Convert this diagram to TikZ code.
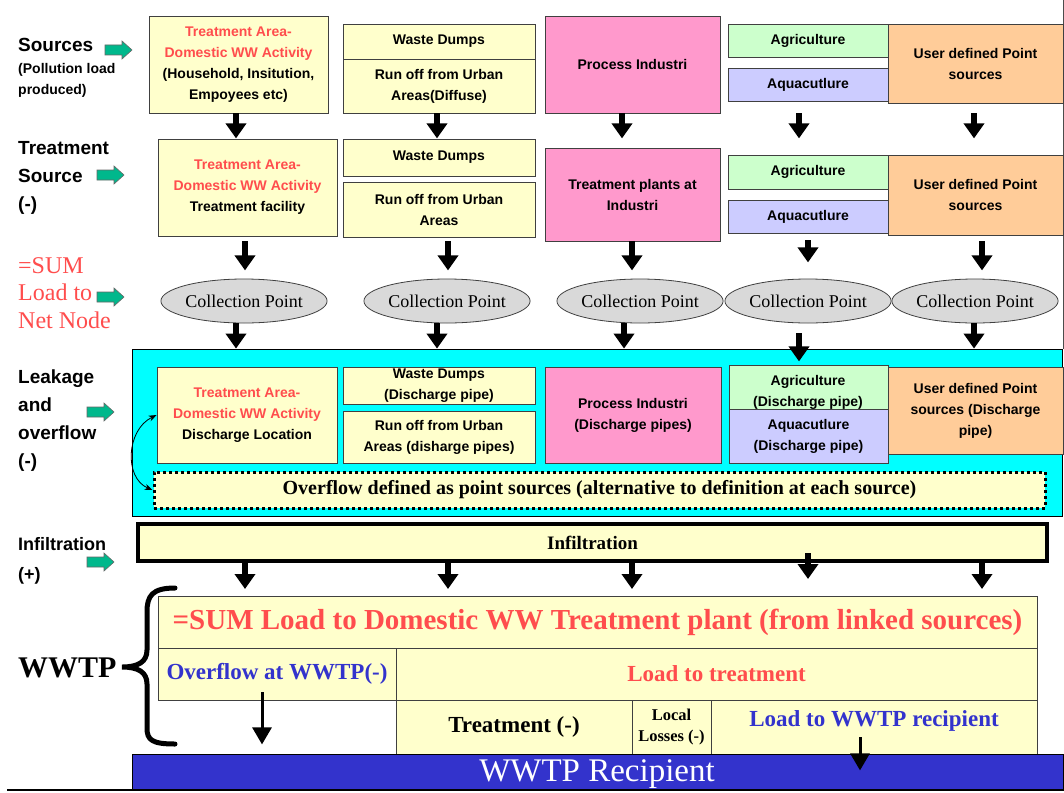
\documentclass[tikz,border=0pt]{standalone}
\usepackage{fontspec}
\setmainfont{Liberation Serif}
\newfontfamily\sansf{Liberation Sans}
\usetikzlibrary{arrows.meta,shapes.geometric}
\definecolor{yel}{RGB}{255,255,204}
\definecolor{pnk}{RGB}{255,153,204}
\definecolor{grn}{RGB}{204,255,204}
\definecolor{lav}{RGB}{204,204,255}
\definecolor{org}{RGB}{255,204,153}
\definecolor{cyn}{RGB}{0,255,255}
\definecolor{gry}{RGB}{217,217,217}
\definecolor{redt}{RGB}{255,77,77}
\definecolor{blut}{RGB}{51,51,204}
\definecolor{tealc}{RGB}{0,184,140}
\definecolor{bord}{RGB}{64,64,64}
\newcommand\mkbox[7]{%
 \pgfmathsetmacro\mkw{#5-#3}%
 \pgfmathsetmacro\mkh{#6-#4}%
 \pgfmathsetmacro\mkx{(#3+#5)/2}%
 \pgfmathsetmacro\mky{(#4+#6)/2}%
 \node[#1, minimum width=\mkw pt, minimum height=\mkh pt] (#2) at (\mkx,\mky) {#7};}
\tikzset{
 sbox/.style={draw=bord, line width=0.8pt, inner sep=0pt, align=center, font=\sansf\bfseries\fontsize{14}{21}\selectfont},
 yb/.style={sbox, fill=yel}, pb/.style={sbox, fill=pnk}, gb/.style={sbox, fill=grn},
 lb/.style={sbox, fill=lav}, ob/.style={sbox, fill=org},
 stxt/.style={inner sep=0pt, align=center, font=\sansf\bfseries\fontsize{14}{21}\selectfont},
 cp/.style={ellipse, draw=bord, line width=0.8pt, fill=gry, minimum width=122pt, minimum height=44pt, inner sep=0pt, font=\fontsize{18}{20}\selectfont},
 blk/.style={line width=6pt, -{Triangle[width=20pt,length=15pt]}},
 tarr/.style={line width=3pt, -{Triangle[width=19pt,length=17pt]}},
 lbl/.style={anchor=west, align=left, inner sep=0pt, font=\sansf\bfseries\fontsize{19}{28}\selectfont},
 cell/.style={draw=bord, line width=0.8pt, fill=yel, inner sep=0pt, align=center, font=\bfseries\fontsize{23}{25}\selectfont},
 garrow/.pic={\draw[fill=tealc, draw=black!60, line width=0.6pt] (0,-5) -- (17,-5) -- (17,-9) -- (27,0) -- (17,9) -- (17,5) -- (0,5) -- cycle;}
}
\begin{document}
\begin{tikzpicture}[x=1pt,y=-1pt]
\useasboundingbox (0,0) rectangle (1064,792);
\fill[white] (0,0) rectangle (1064,792);
\draw[line width=1pt, black!70] (1063,0) -- (1063,349);

% left labels
\node[lbl] (Lsrc) at (18,45) {Sources};
\node[lbl, font=\sansf\bfseries\fontsize{14}{21}\selectfont] (Lsrc2) at (18,80) {(Pollution load\\produced)};
\node[lbl] (Ltr) at (18,178) {Treatment\\Source\\(-)};
\node[lbl, font=\fontsize{24}{27.5}\selectfont, text=redt] (Lsum) at (18,293) {=SUM\\Load to\\Net Node};
\node[lbl] (Llk) at (18,421) {Leakage\\and\\overflow\\(-)};
\node[lbl, font=\sansf\bfseries\fontsize{18}{30}\selectfont] (Linf) at (18,561) {Infiltration\\(+)};
\node[lbl, font=\bfseries\fontsize{30}{32}\selectfont] (Lww) at (18,668) {WWTP};
\pic at (105,50) {garrow};
\pic at (97,175) {garrow};
\pic at (97,297) {garrow};
\pic at (87,412) {garrow};
\pic at (87,562) {garrow};

% row 1 sources
\mkbox{yb}{A1}{149}{16}{328}{113}{\textcolor{redt}{Treatment Area-}\\\textcolor{redt}{Domestic WW Activity}\\(Household, Insitution,\\Empoyees etc)}
\mkbox{yb}{B1a}{343}{24}{535}{59}{Waste Dumps}
\mkbox{yb}{B1b}{343}{59}{535}{113}{Run off from Urban\\Areas(Diffuse)}
\mkbox{pb}{C1}{545}{16}{720}{113}{Process Industri}
\mkbox{gb}{D1a}{728}{24}{888}{57}{Agriculture}
\mkbox{lb}{D1b}{728}{68}{888}{101}{Aquacutlure}
\mkbox{ob}{E1}{888}{24}{1063}{103}{User defined Point\\sources}

% row 2 treatment
\mkbox{yb}{A2}{158}{139}{337}{236}{\textcolor{redt}{Treatment Area-}\\\textcolor{redt}{Domestic WW Activity}\\Treatment facility}
\mkbox{yb}{B2a}{343}{139}{535}{176}{Waste Dumps}
\mkbox{yb}{B2b}{343}{182}{535}{237}{Run off from Urban\\Areas}
\mkbox{pb}{C2}{545}{148}{720}{241}{Treatment plants at\\Industri}
\mkbox{gb}{D2a}{728}{155}{888}{189}{Agriculture}
\mkbox{lb}{D2b}{728}{200}{888}{233}{Aquacutlure}
\mkbox{ob}{E2}{888}{155}{1063}{235}{User defined Point\\sources}

% arrows row1 -> row2
\draw[blk] (236,0 |- A1.south) -- ++(0,25);
\draw[blk] (437,0 |- B1b.south) -- ++(0,25);
\draw[blk] (622,0 |- C1.south) -- ++(0,25);
\draw[blk] (799,0 |- C1.south) -- ++(0,25);
\draw[blk] (974,0 |- C1.south) -- ++(0,25);

% collection points
\node[cp] (CP1) at (244,301) {Collection Point};
\node[cp] (CP2) at (447,301) {Collection Point};
\node[cp] (CP3) at (640,301) {Collection Point};
\node[cp] (CP4) at (808,301) {Collection Point};
\node[cp] (CP5) at (975,301) {Collection Point};
\draw[blk] (245,0 |- C2.south) -- ++(0,29);
\draw[blk] (448,0 |- C2.south) -- ++(0,29);
\draw[blk] (632,0 |- C2.south) -- ++(0,29);
\draw[blk] (808,0 |- C2.south) ++(0,-1) -- ++(0,22);
\draw[blk] (982,0 |- C2.south) -- ++(0,29);

% leakage and overflow
\mkbox{draw=black, line width=0.8pt, fill=cyn, inner sep=0pt}{LK}{132}{349}{1062}{516}{}
\draw[blk] (236,0 |- CP1.south) -- (236,0 |- LK.north);
\draw[blk] (437,0 |- CP2.south) -- (437,0 |- LK.north);
\draw[blk] (624,0 |- CP3.south) -- (624,0 |- LK.north);
\draw[blk] (799,0 |- CP4.south) ++(0,10) -- ++(0,28);
\draw[blk] (974,0 |- CP5.south) -- (974,0 |- LK.north);

\mkbox{yb}{A3}{157}{367}{337}{463}{\textcolor{redt}{Treatment Area-}\\\textcolor{redt}{Domestic WW Activity}\\Discharge Location}
\mkbox{yb}{B3a}{343}{367}{535}{404}{Waste Dumps\\(Discharge pipe)}
\mkbox{yb}{B3b}{343}{411}{535}{463}{Run off from Urban\\Areas (disharge pipes)}
\mkbox{pb}{C3}{545}{367}{721}{463}{Process Industri\\(Discharge pipes)}
\mkbox{gb}{D3a}{729}{365}{888}{409}{}
\node[stxt] (D3at) at (808,392) {Agriculture\\(Discharge pipe)};
\mkbox{lb}{D3b}{729}{409}{888}{463}{Aquacutlure\\(Discharge pipe)}
\mkbox{ob}{E3}{888}{367}{1063}{454}{User defined Point\\sources (Discharge\\pipe)}
\mkbox{draw=black, line width=3pt, dash pattern=on 3pt off 3pt, fill=yel, inner sep=0pt, font=\bfseries\fontsize{20}{22}\selectfont}{OV}{154}{472}{1045}{508}{Overflow defined as point sources (alternative to definition at each source)}
\draw[line width=0.8pt, {Stealth[length=8pt,width=6pt]}-{Stealth[length=8pt,width=6pt]}] (A3.west) .. controls (126,430) and (124,478) .. (OV.west);

% infiltration
\mkbox{draw=black, line width=4pt, fill=yel, inner sep=0pt, font=\bfseries\fontsize{19}{21}\selectfont}{INF}{138}{524}{1047}{561}{Infiltration}

% WWTP table
\mkbox{cell}{T1}{158}{596}{1037}{648}{\fontsize{29}{31}\selectfont\textcolor{redt}{=SUM Load to Domestic WW Treatment plant (from linked sources)}}
\mkbox{cell, text=blut}{T2a}{158}{648}{396}{700}{Overflow at WWTP(-)}
\mkbox{cell, text=redt}{T2b}{396}{648}{1037}{700}{Load to treatment}
\mkbox{cell}{T3a}{396}{700}{632}{754}{Treatment (-)}
\mkbox{cell, font=\bfseries\fontsize{16.5}{21}\selectfont}{T3b}{632}{700}{711}{754}{Local\\Losses (-)}
\mkbox{cell}{T3c}{711}{700}{1037}{754}{}
\node[inner sep=0pt, font=\bfseries\fontsize{23}{25}\selectfont, text=blut] (T3ct) at (874,721) {Load to WWTP recipient};
\mkbox{draw=black, line width=0.8pt, fill=blut, inner sep=0pt}{REC}{132}{754}{1063}{789}{}
\node[inner sep=0pt, text=white, font=\fontsize{33}{35}\selectfont] (RECt) at (597,774) {WWTP Recipient};
\draw[line width=2pt] (7,790) -- (1064,790);

\draw[blk] (245,0 |- INF.south) -- ++(0,26);
\draw[blk] (448,0 |- INF.south) -- ++(0,26);
\draw[blk] (632,0 |- INF.south) -- ++(0,26);
\draw[blk] (808,0 |- INF.south) ++(0,-10) -- ++(0,26);
\draw[blk] (982,0 |- INF.south) -- ++(0,26);

\draw[tarr] (262,0 |- T2a.south) ++(0,-8) -- ++(0,52);
\draw[tarr] (860,0 |- T3c.south) ++(0,-17) -- ++(0,33);

% brace
\draw[line width=5pt, line cap=round] (175,588) .. controls (152,588) and (147,596) .. (147,612) -- (147,650) .. controls (147,662) and (138,667) .. (122,667) .. controls (138,667) and (147,672) .. (147,684) -- (147,728) .. controls (147,740) and (152,744) .. (175,744);
\end{tikzpicture}
\end{document}
